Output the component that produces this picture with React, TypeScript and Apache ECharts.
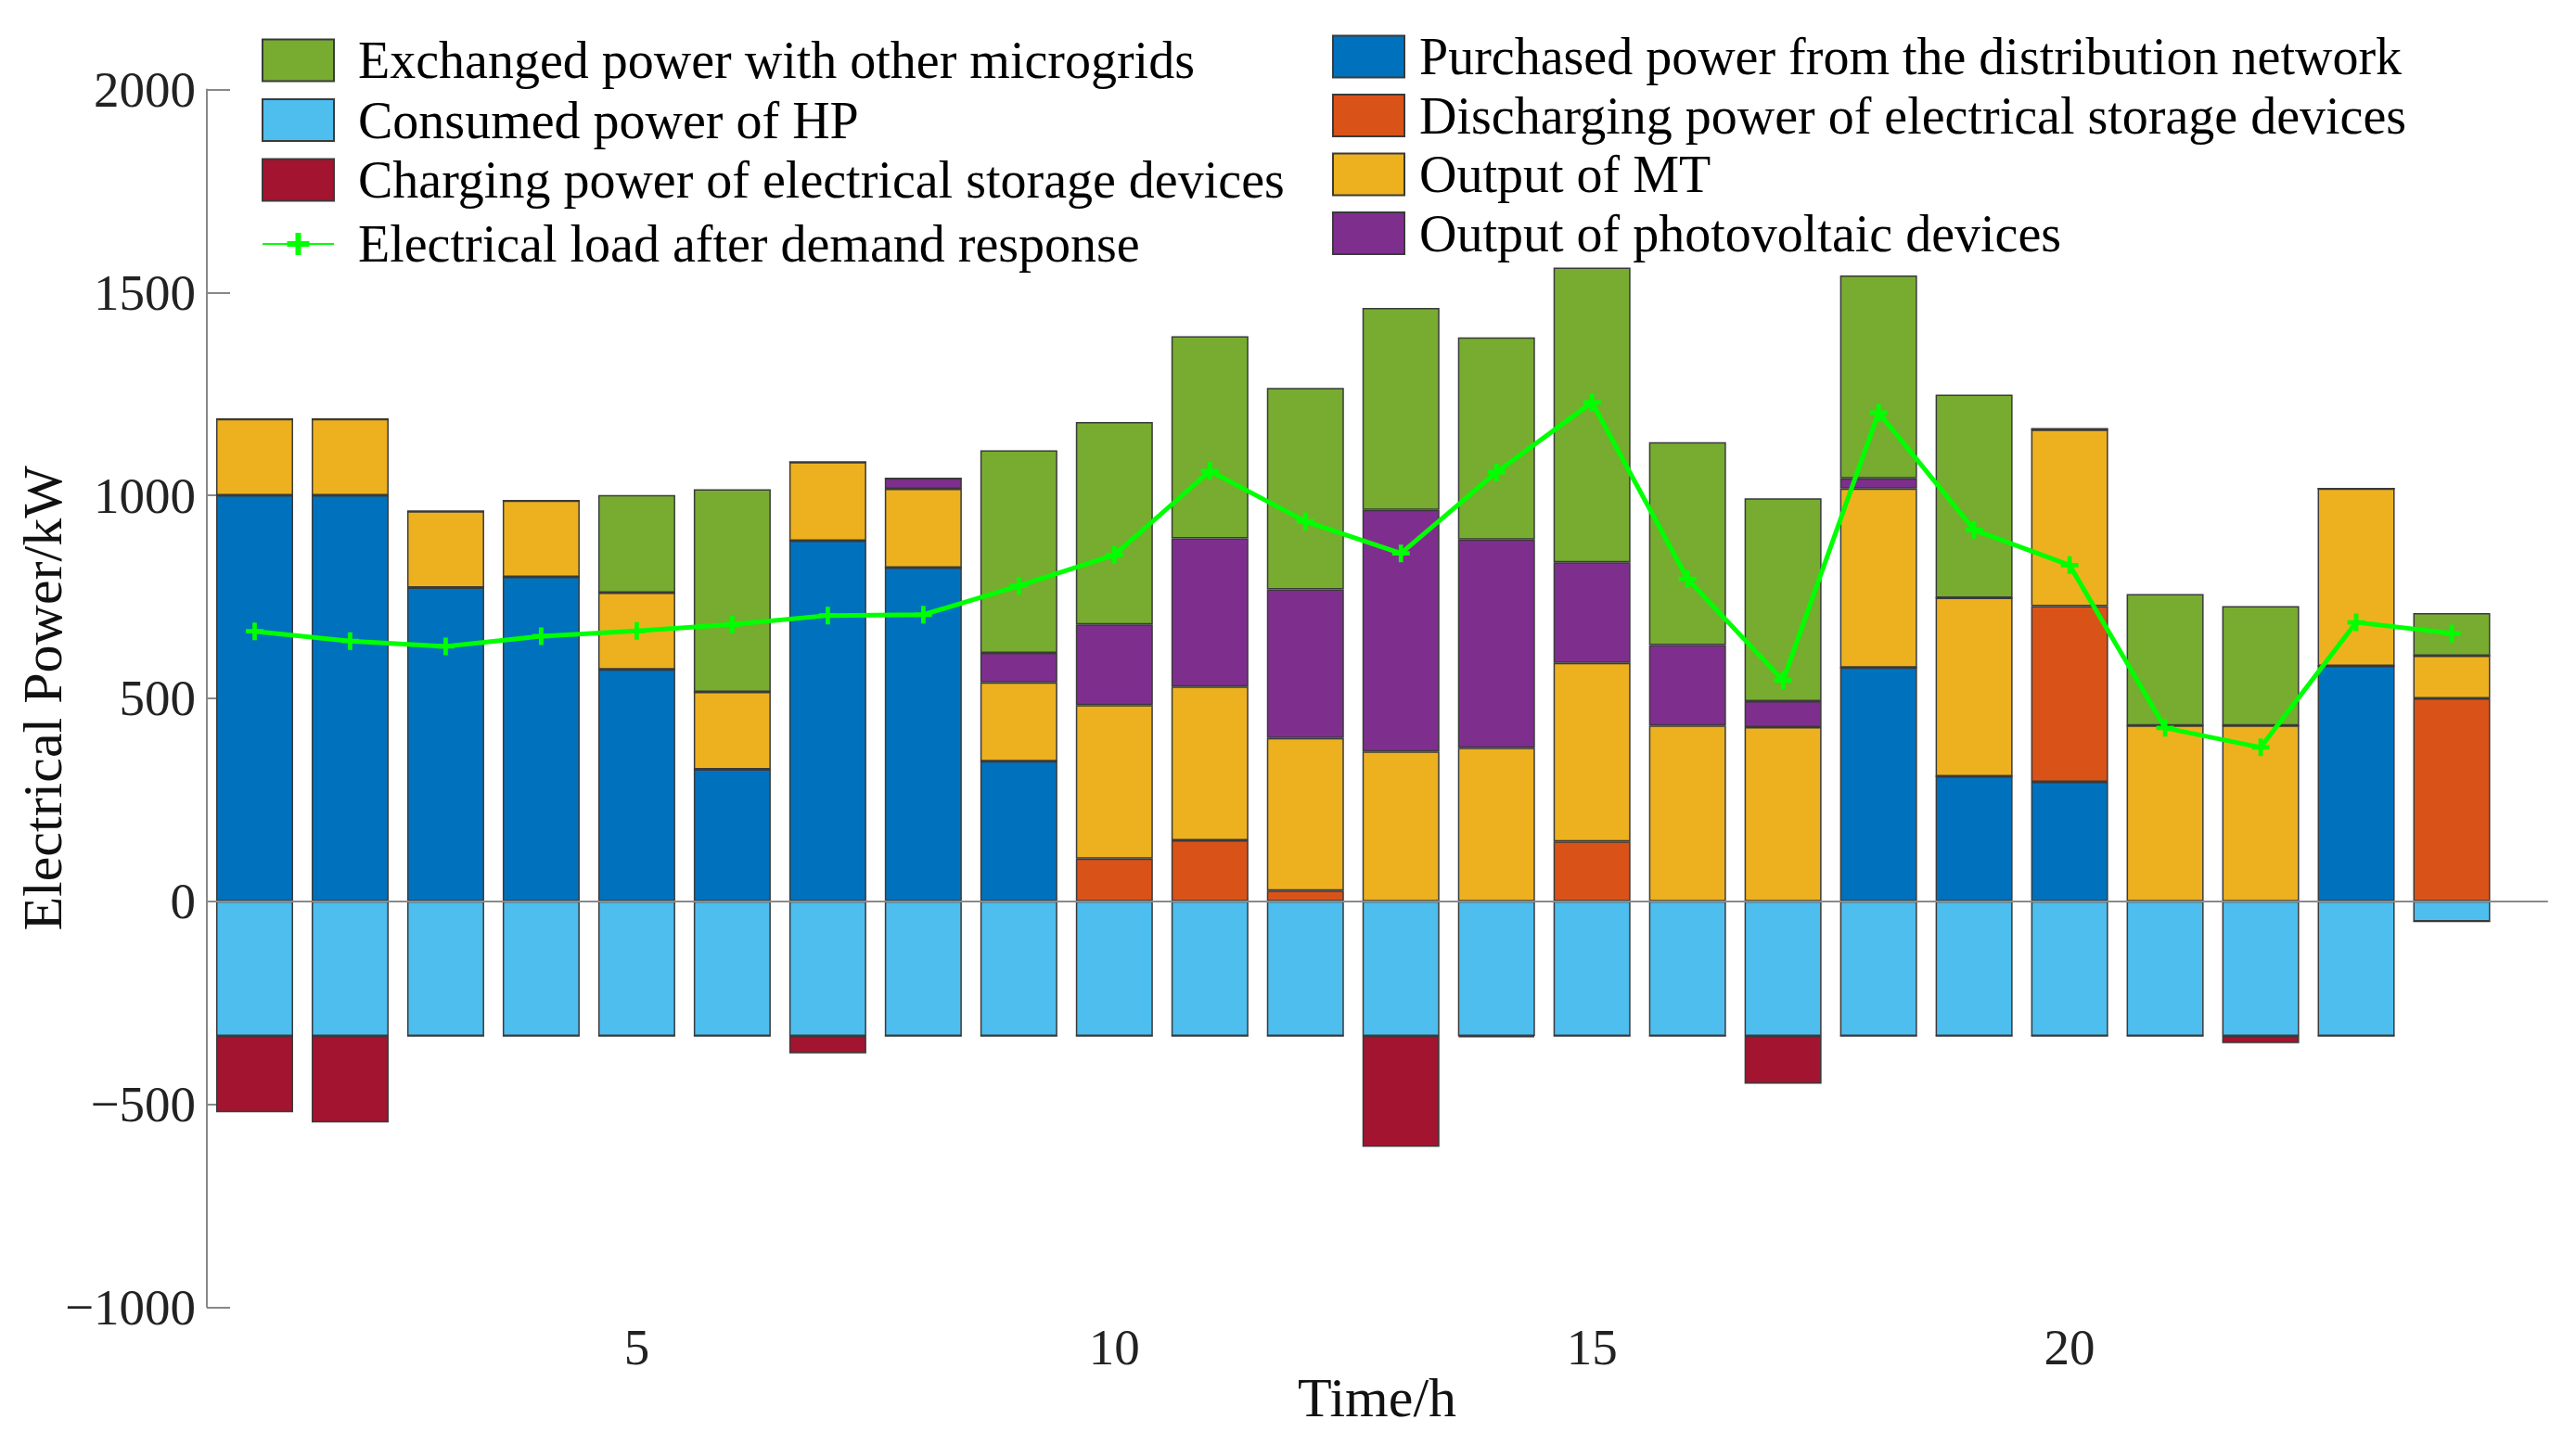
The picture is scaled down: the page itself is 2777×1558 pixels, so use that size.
import React, { useEffect, useRef } from "react";
import * as echarts from "echarts";

const hours = [1, 2, 3, 4, 5, 6, 7, 8, 9, 10, 11, 12, 13, 14, 15, 16, 17, 18, 19, 20, 21, 22, 23, 24];
const purchased = [1000, 1000, 773, 799, 571, 325, 888, 822, 345, 0, 0, 0, 0, 0, 0, 0, 0, 576, 308, 294, 0, 0, 580, 0];
const discharging = [0, 0, 0, 0, 0, 0, 0, 0, 0, 105, 150, 26, 0, 0, 147, 0, 0, 0, 0, 433, 0, 0, 0, 500];
const mtOutput = [188, 188, 188, 188, 189, 191, 194, 194, 194, 378, 379, 376, 369, 378, 440, 433, 429, 441, 440, 435, 433, 433, 437, 105];
const pvOutput = [0, 0, 0, 0, 0, 0, 0, 26, 73, 199, 365, 366, 595, 513, 248, 198, 64, 25, 0, 0, 0, 0, 0, 0];
const exchanged = [0, 0, 0, 0, 241, 499, 0, 0, 499, 499, 498, 497, 498, 498, 726, 500, 500, 500, 500, 4, 324, 294, 0, 105];
const hpConsumed = [-332, -332, -332, -332, -332, -332, -332, -332, -332, -332, -332, -332, -332, -332, -332, -332, -332, -332, -332, -332, -332, -332, -332, -50];
const charging = [-188, -213, 0, 0, 0, 0, -43, 0, 0, 0, 0, 0, -273, -3, 0, 0, -118, 0, 0, 0, 0, -18, 0, 0];
const loadAfterDR = [665, 641, 628, 653, 666, 682, 704, 706, 777, 853, 1060, 936, 857, 1057, 1229, 794, 544, 1204, 915, 828, 427, 379, 687, 660];
const xTicks = [5, 10, 15, 20];

const NAMES = {
  purchased: "Purchased power from the distribution network",
  discharging: "Discharging power of electrical storage devices",
  mt: "Output of MT",
  pv: "Output of photovoltaic devices",
  exchanged: "Exchanged power with other microgrids",
  hp: "Consumed power of HP",
  charging: "Charging power of electrical storage devices",
  load: "Electrical load after demand response",
};

const FONT = "'Liberation Serif', 'Times New Roman', 'DejaVu Serif', serif";
const PLUS = "path://M7.5,0H12.5V7.5H20V12.5H12.5V20H7.5V12.5H0V7.5H7.5Z";

// value first so the stacked dimension is the y value; x (hour) second
function pairs(vals: number[]) {
  return hours.map((h, i) => [vals[i], h]);
}

function barSeries(name: string, vals: number[], color: string, extra: any = {}) {
  return {
    name,
    type: "bar",
    stack: "total",
    barWidth: 83,
    data: pairs(vals),
    encode: { x: 1, y: 0 },
    itemStyle: { color, borderColor: "#3a3a3a", borderWidth: 1.5 },
    emphasis: { disabled: true },
    ...extra,
  };
}

export default function App() {
  const ref = useRef<HTMLDivElement>(null);
  useEffect(() => {
    if (!ref.current) return;
    const chart = echarts.init(ref.current, undefined, { renderer: "svg" });
    const legendText = { fontFamily: FONT, fontSize: 56, color: "#000" };
    chart.setOption({
      animation: false,
      backgroundColor: "#fff",
      grid: { left: 223, right: 31, top: 96.5, bottom: 148.7, containLabel: false, outerBoundsMode: "none" },
      legend: [
        {
          left: 277,
          top: 32,
          orient: "vertical",
          itemWidth: 77,
          itemHeight: 45,
          itemGap: 8.5,
          icon: "rect",
          selectedMode: false,
          data: [NAMES.exchanged, NAMES.hp, NAMES.charging],
          textStyle: { ...legendText, padding: [0, 0, 0, 21] },
        },
        {
          left: 277,
          top: 230,
          orient: "vertical",
          itemWidth: 77,
          itemHeight: 30,
          selectedMode: false,
          data: [NAMES.load],
          textStyle: { ...legendText, padding: [0, 0, 0, 21] },
        },
        {
          left: 1431,
          top: 28,
          orient: "vertical",
          itemWidth: 77,
          itemHeight: 45,
          itemGap: 7.5,
          icon: "rect",
          selectedMode: false,
          data: [NAMES.purchased, NAMES.discharging, NAMES.mt, NAMES.pv],
          textStyle: { ...legendText, padding: [0, 0, 0, 11] },
        },
      ],
      xAxis: {
        type: "value",
        min: 0.5,
        max: 25,
        name: "Time/h",
        nameLocation: "middle",
        nameGap: 68,
        nameMoveOverlap: false,
        nameTextStyle: { fontFamily: FONT, fontSize: 60, color: "#111" },
        axisLine: { show: true, lineStyle: { color: "#888", width: 2 } },
        axisTick: { show: true, inside: true, length: 27, customValues: xTicks, lineStyle: { color: "#888", width: 2 } },
        axisLabel: { customValues: xTicks, fontFamily: FONT, fontSize: 55, color: "#222", margin: 16 },
        splitLine: { show: false },
      },
      yAxis: {
        type: "value",
        min: -1000,
        max: 2000,
        interval: 500,
        name: "Electrical Power/kW",
        nameLocation: "middle",
        nameGap: 147,
        nameMoveOverlap: false,
        nameTextStyle: { fontFamily: FONT, fontSize: 60, color: "#111" },
        axisLine: { show: true, lineStyle: { color: "#888", width: 2 } },
        axisTick: { show: true, inside: true, length: 25, lineStyle: { color: "#888", width: 2 } },
        axisLabel: {
          fontFamily: FONT,
          fontSize: 55,
          color: "#222",
          margin: 12,
          formatter: (v: number) => (v < 0 ? "\u2212" + Math.abs(v) : String(v)),
        },
        splitLine: { show: false },
      },
      series: [
        barSeries(NAMES.purchased, purchased, "#0072BD", {
          markLine: {
            silent: true,
            symbol: "none",
            label: { show: false },
            lineStyle: { color: "#8a8a8a", width: 2, type: "solid" },
            data: [{ yAxis: 0 }],
          },
        }),
        barSeries(NAMES.discharging, discharging, "#D95319"),
        barSeries(NAMES.mt, mtOutput, "#EDB120"),
        barSeries(NAMES.pv, pvOutput, "#7E2F8E"),
        barSeries(NAMES.exchanged, exchanged, "#77AC30"),
        barSeries(NAMES.hp, hpConsumed, "#4DBEEE"),
        barSeries(NAMES.charging, charging, "#A2142F"),
        {
          name: NAMES.load,
          type: "line",
          data: hours.map((h, i) => [h, loadAfterDR[i]]),
          symbol: PLUS,
          symbolSize: 19,
          lineStyle: { color: "#00FF00", width: 5 },
          itemStyle: { color: "#00FF00" },
          emphasis: { disabled: true },
          z: 5,
        },
      ],
    });
    return () => chart.dispose();
  }, []);
  return <div ref={ref} style={{ position: "absolute", left: 0, top: 0, width: 2777, height: 1558 }} />;
}
